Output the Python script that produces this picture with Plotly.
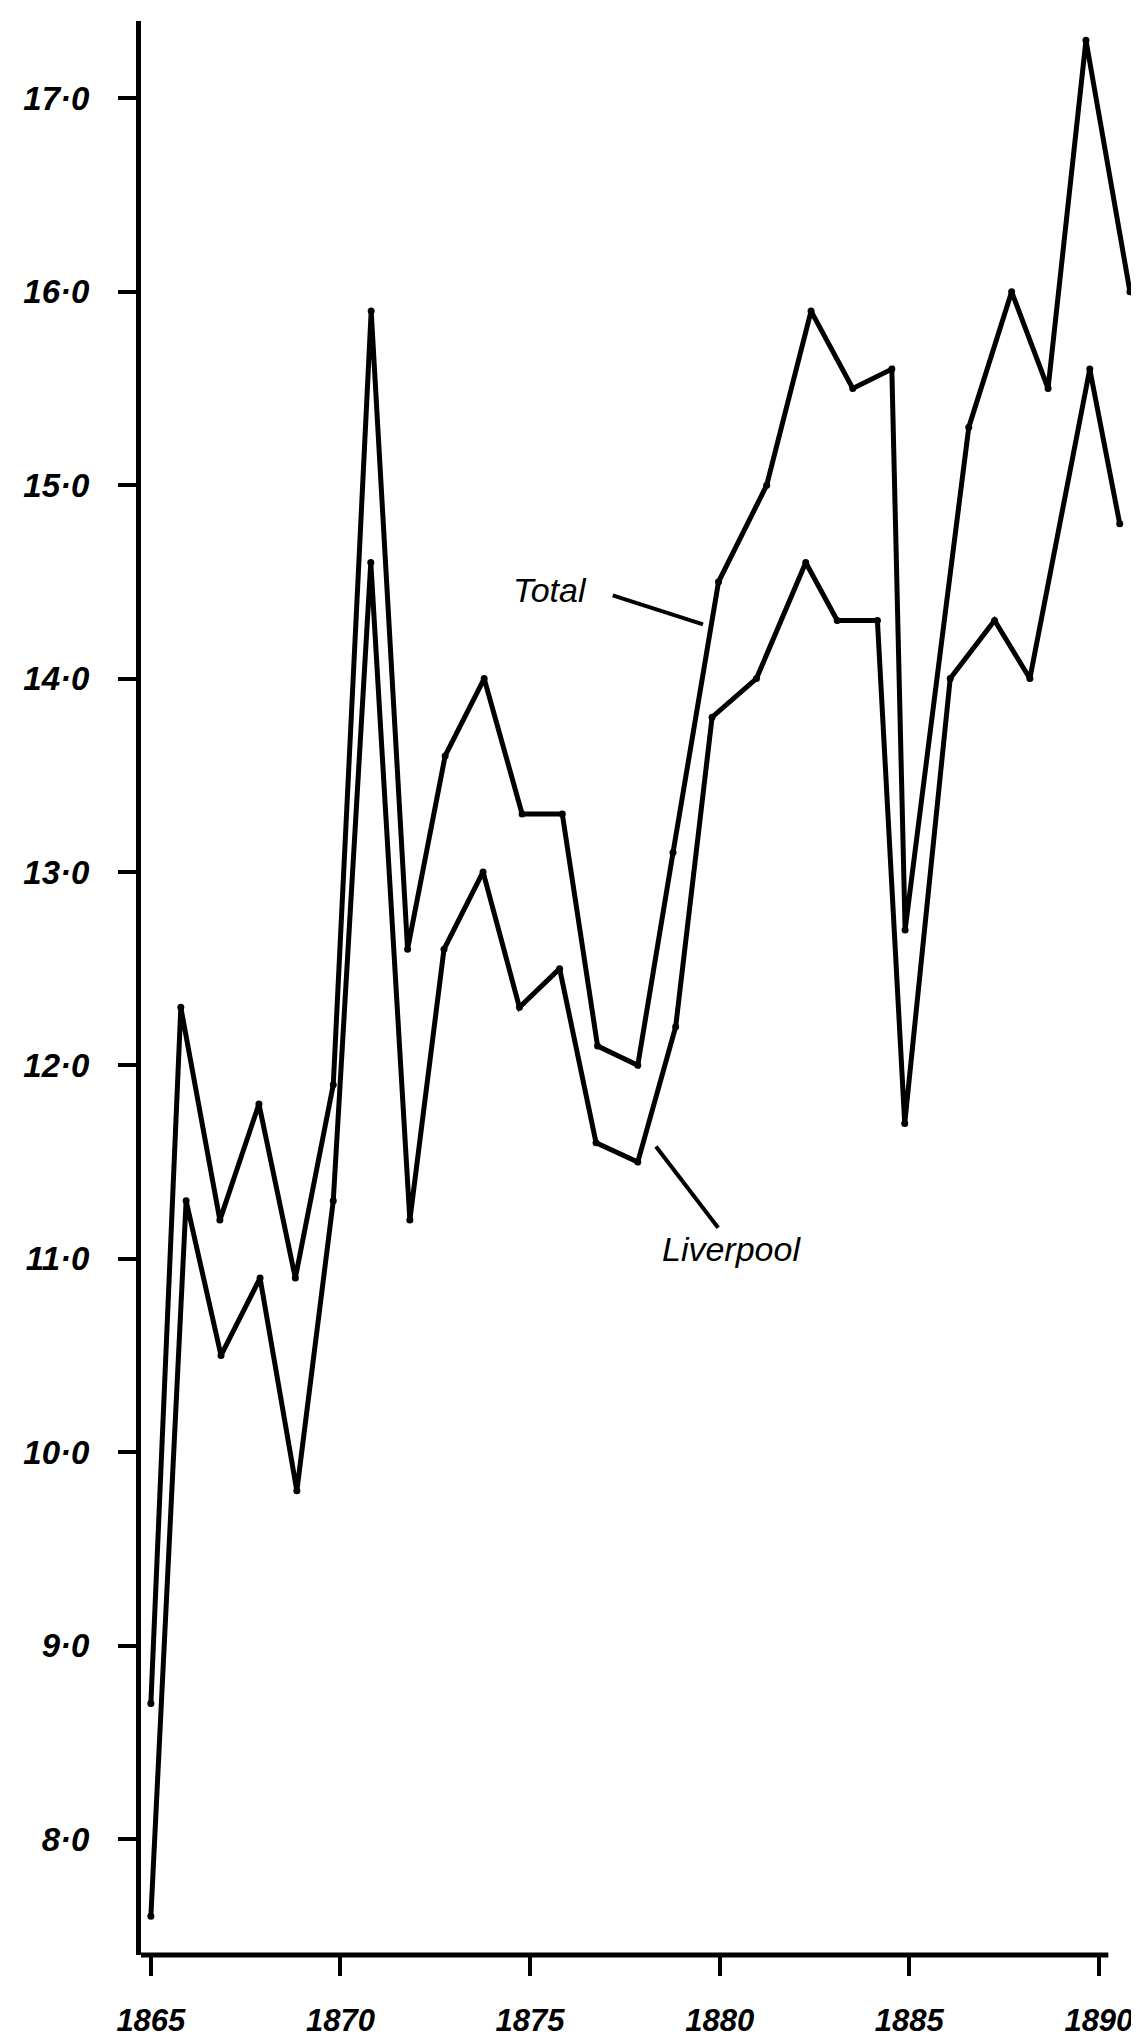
import plotly.graph_objects as go

# ---- data (x in years as drawn, y in values) ----
total_years = [1865.00, 1865.79, 1866.82, 1867.85, 1868.81, 1869.81, 1870.81, 1871.77,
               1872.76, 1873.79, 1874.79, 1875.85, 1876.78, 1877.84, 1878.77, 1879.97,
               1881.24, 1882.41, 1883.51, 1884.54, 1884.89, 1886.57, 1887.70, 1888.66,
               1889.66, 1890.82]
total_values = [8.7, 12.3, 11.2, 11.8, 10.9, 11.9, 15.9, 12.6, 13.6, 14.0, 13.3, 13.3,
                12.1, 12.0, 13.1, 14.5, 15.0, 15.9, 15.5, 15.6, 12.7, 15.3, 16.0, 15.5,
                17.3, 16.0]

liverpool_years = [1865.00, 1865.93, 1866.85, 1867.88, 1868.85, 1869.81, 1870.80, 1871.83,
                   1872.73, 1873.76, 1874.72, 1875.78, 1876.74, 1877.84, 1878.84, 1879.80,
                   1880.97, 1882.27, 1883.10, 1884.16, 1884.88, 1886.08, 1887.25, 1888.18,
                   1889.76, 1890.55]
liverpool_values = [7.6, 11.3, 10.5, 10.9, 9.8, 11.3, 14.6, 11.2, 12.6, 13.0, 12.3, 12.5,
                    11.6, 11.5, 12.2, 13.8, 14.0, 14.6, 14.3, 14.3, 11.7, 14.0, 14.3, 14.0,
                    15.6, 14.8]

x_tick_years = [1865, 1870, 1875, 1880, 1885, 1890]
x_tick_labels = ["1865", "1870", "1875", "1880", "1885", "1890"]
y_tick_values = [8, 9, 10, 11, 12, 13, 14, 15, 16, 17]
y_tick_labels = ["8·0", "9·0", "10·0", "11·0", "12·0", "13·0", "14·0", "15·0", "16·0", "17·0"]

series_names = ["Total", "Liverpool"]

INK = "#000000"
HAND = "Liberation Sans, Arial, sans-serif"

fig = go.Figure()
for name, xs, ys in [(series_names[0], total_years, total_values),
                     (series_names[1], liverpool_years, liverpool_values)]:
    fig.add_trace(go.Scatter(
        x=xs, y=ys, name=name, mode="lines+markers",
        line=dict(color=INK, width=5),
        marker=dict(color=INK, size=7),
        cliponaxis=False, showlegend=False,
    ))

# hand-written labels with their leader strokes
fig.add_annotation(x=1875.52, y=14.46, xref="x", yref="y", text="Total", showarrow=False,
                   font=dict(family=HAND, size=34, color=INK, style="italic"))
fig.add_shape(type="line", xref="x", yref="y", x0=1877.18, y0=14.43, x1=1879.56, y1=14.28,
              line=dict(color=INK, width=4))
fig.add_annotation(x=1880.30, y=11.05, xref="x", yref="y", text="Liverpool", showarrow=False,
                   font=dict(family=HAND, size=34, color=INK, style="italic"))
fig.add_shape(type="line", xref="x", yref="y", x0=1878.32, y0=11.58, x1=1879.96, y1=11.16,
              line=dict(color=INK, width=4))

# bottom axis line (ends just past the 1890 tick, as drawn)
fig.add_shape(type="line", xref="x", yref="paper", x0=1864.74, x1=1890.25, y0=0, y1=0,
              line=dict(color=INK, width=5))

fig.update_layout(
    width=1139, height=2042,
    margin=dict(l=133, r=14, t=13, b=89),
    paper_bgcolor="white", plot_bgcolor="white",
    showlegend=False,
)
fig.update_xaxes(
    range=[1864.74, 1890.9],
    tickmode="array", tickvals=x_tick_years, ticktext=x_tick_labels,
    ticks="outside", ticklen=20, tickwidth=4, tickcolor=INK,
    showline=False, showgrid=False, zeroline=False,
    tickfont=dict(family=HAND, size=31, color=INK, style="italic", weight="bold"),
    ticklabelstandoff=18,
)
fig.update_yaxes(
    range=[7.4, 17.4],
    tickmode="array", tickvals=y_tick_values, ticktext=y_tick_labels,
    ticks="outside", ticklen=18, tickwidth=4, tickcolor=INK,
    showline=True, linecolor=INK, linewidth=5,
    showgrid=False, zeroline=False,
    tickfont=dict(family=HAND, size=33, color=INK, style="italic", weight="bold"),
    ticklabelstandoff=22,
)

fig.write_html("out.html")
